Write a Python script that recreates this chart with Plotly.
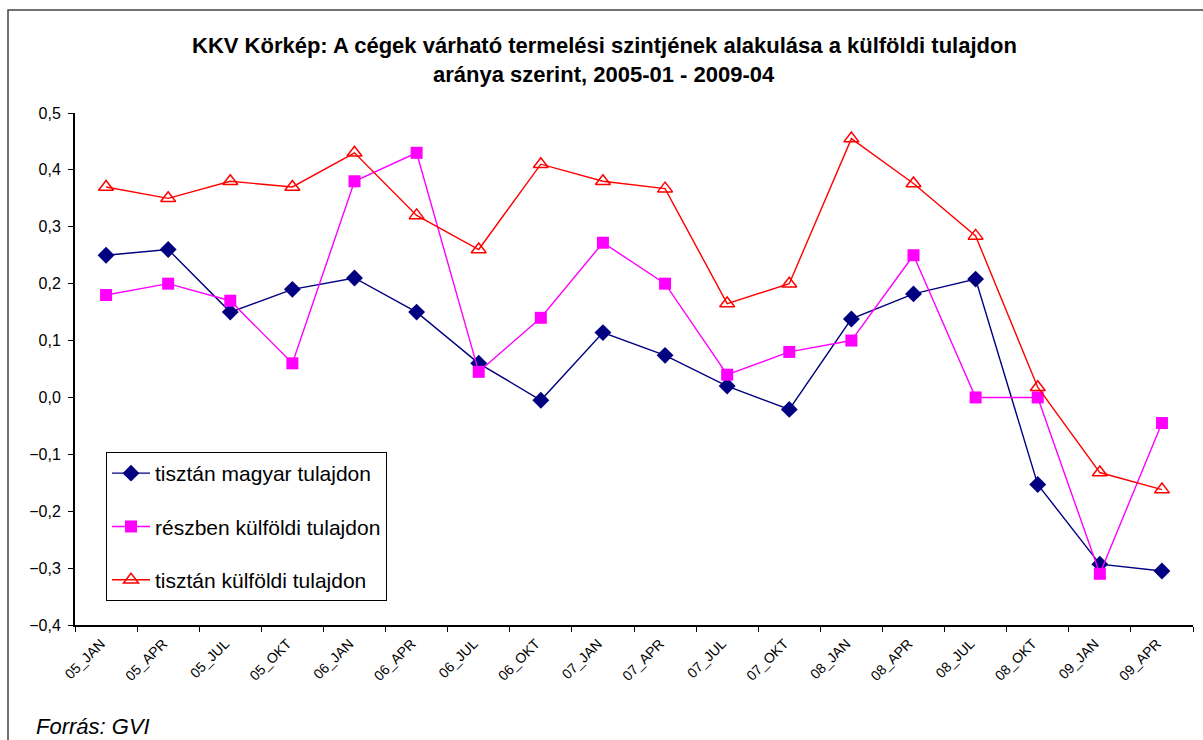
import plotly.graph_objects as go

categories = ["05_JAN", "05_APR", "05_JUL", "05_OKT", "06_JAN", "06_APR", "06_JUL", "06_OKT",
              "07_JAN", "07_APR", "07_JUL", "07_OKT", "08_JAN", "08_APR", "08_JUL", "08_OKT",
              "09_JAN", "09_APR"]

magyar = [0.25, 0.26, 0.15, 0.19, 0.21, 0.15, 0.06, -0.005, 0.114, 0.074, 0.02, -0.021,
          0.138, 0.182, 0.208, -0.153, -0.293, -0.305]
reszben = [0.18, 0.20, 0.17, 0.06, 0.38, 0.43, 0.045, 0.14, 0.272, 0.20, 0.04, 0.08,
           0.10, 0.25, 0.0, 0.0, -0.31, -0.045]
kulfoldi = [0.37, 0.35, 0.38, 0.37, 0.43, 0.32, 0.26, 0.41, 0.38, 0.367, 0.165, 0.20,
            0.455, 0.376, 0.284, 0.018, -0.132, -0.162]

names = ["tisztán magyar tulajdon", "részben külföldi tulajdon", "tisztán külföldi tulajdon"]
title_lines = ["KKV Körkép: A cégek várható termelési szintjének alakulása a külföldi tulajdon",
               "aránya szerint, 2005-01 - 2009-04"]
source = "Forrás: GVI"

FONT = "Liberation Sans, Arial, sans-serif"
L, R, T, B = 75, 1193, 113, 625
PW, PH = R - L, B - T

def px_x(x):
    return (x - L) / PW

def px_y(y):
    return (B - y) / PH

fig = go.Figure()
fig.add_trace(go.Scatter(x=categories, y=magyar, name=names[0], mode="lines+markers",
                         legendgroup="a",
                         line=dict(color="#000080", width=1.4),
                         marker=dict(symbol="diamond", size=13, color="#000080")))
fig.add_trace(go.Scatter(x=categories, y=reszben, name=names[1], mode="lines+markers",
                         legendgroup="b",
                         line=dict(color="#FF00FF", width=1.4),
                         marker=dict(symbol="square", size=12, color="#FF00FF")))
fig.add_trace(go.Scatter(x=categories, y=kulfoldi, name=names[2], mode="lines+markers",
                         legendgroup="c",
                         line=dict(color="#FF0000", width=1.4),
                         marker=dict(symbol="triangle-up-open", size=13, color="#FF0000",
                                     line=dict(width=1.5, color="#FF0000"))))

fig.update_layout(
    width=1203, height=740,
    margin=dict(l=L, r=1203 - R, t=T, b=740 - B),
    paper_bgcolor="white", plot_bgcolor="white",
    separators=", ",
    font=dict(family=FONT, color="black"),
    xaxis=dict(type="category", range=[-0.5, 17.5], showgrid=False, tickson="boundaries",
               ticks="outside", ticklen=5, tickcolor="black", showline=True, linecolor="black",
               linewidth=2, tickangle=-45, tickfont=dict(size=14, family=FONT), zeroline=False,
               ticklabelshift=-5, ticklabelstandoff=3),
    yaxis=dict(range=[-0.4, 0.5], dtick=0.1, tick0=0, tickformat=".1f", showgrid=False,
               ticks="outside", ticklen=5, tickcolor="black", showline=True, linecolor="black",
               linewidth=2, tickfont=dict(size=16, family=FONT), zeroline=False,
               ticklabelstandoff=4),
    legend=dict(x=px_x(106), y=px_y(452), xanchor="left", yanchor="top",
                bgcolor="white", bordercolor="black", borderwidth=1, itemwidth=38,
                font=dict(size=21, family=FONT), tracegroupgap=23, traceorder="grouped"),
    showlegend=True,
)

fig.add_shape(type="rect", xref="paper", yref="paper",
              x0=px_x(8), x1=1.05, y0=-0.4, y1=px_y(10),
              line=dict(color="#444444", width=1.5), fillcolor="rgba(0,0,0,0)", layer="below")

for txt, yy in zip(title_lines, [45, 74]):
    fig.add_annotation(text="<b>" + txt + "</b>", xref="paper", yref="paper",
                       x=px_x(604), y=px_y(yy), xanchor="center", yanchor="middle",
                       showarrow=False, font=dict(size=22, family=FONT, color="black"))

fig.add_annotation(text="<i>" + source + "</i>", xref="paper", yref="paper",
                   x=px_x(34), y=px_y(726), xanchor="left", yanchor="middle",
                   showarrow=False, font=dict(size=22, family=FONT, color="black"))

fig.write_html("out.html", config={"displayModeBar": False},
               post_script="document.body.style.margin='0';document.body.style.overflow='hidden';")
